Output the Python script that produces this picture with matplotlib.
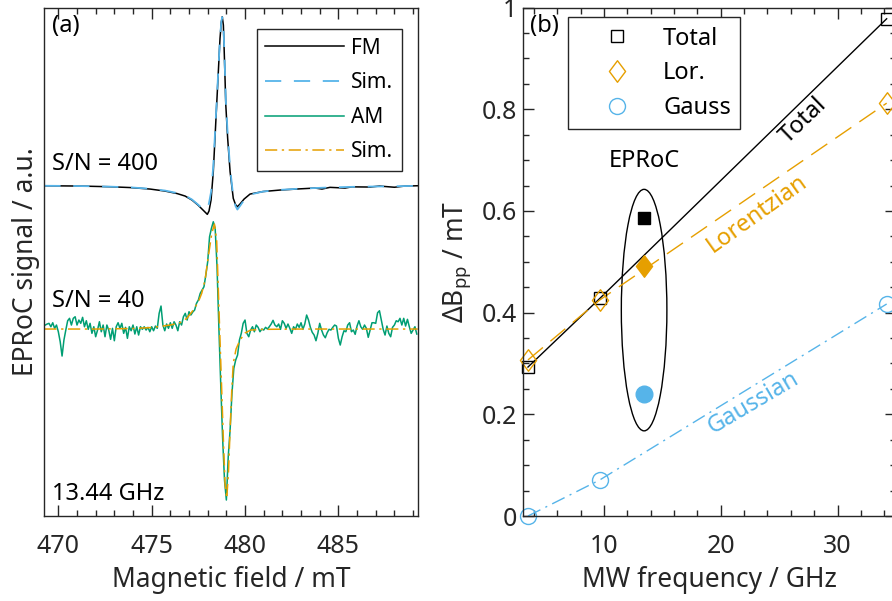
import matplotlib
matplotlib.use("Agg")
import matplotlib.pyplot as plt
import numpy as np
from matplotlib.patches import Ellipse
from matplotlib.path import Path
from matplotlib.ticker import FuncFormatter, MultipleLocator

plt.rcParams["font.family"] = ["Noto Sans", "DejaVu Sans"]
plt.rcParams["mathtext.default"] = "regular"

# --- (a) spectra, field in mT, signal in a.u. relative to each baseline ---
fm_field = [469.25, 471.16, 472.77, 473.84, 474.91, 475.71, 476.36, 476.79, 477.16,
            477.48, 477.75, 477.98, 478.07, 478.18, 478.30, 478.39, 478.48, 478.57,
            478.66, 478.73, 478.78, 478.84, 478.90, 478.97, 479.07, 479.20, 479.37,
            479.49, 479.59, 479.73, 479.95, 480.27, 480.96, 481.87, 482.94, 483.75,
            484.12, 484.55, 485.36, 485.73, 486.70, 487.20, 488.00, 488.57, 489.25]
fm_signal = [0.003, 0.0, -0.007, -0.015, -0.03, -0.05, -0.075, -0.10, -0.14,
             -0.19, -0.24, -0.283, -0.25, -0.14, 0.143, 0.477, 0.81, 1.143,
             1.477, 1.64, 1.693, 1.61, 1.26, 0.81, 0.477, 0.143, -0.123,
             -0.185, -0.207, -0.18, -0.13, -0.08, -0.055, -0.04, -0.028, -0.02,
             -0.03, -0.013, -0.02, -0.008, -0.01, 0.0, -0.012, 0.0, 0.003]
fm_sim_signal = [0.003, 0.0, -0.006, -0.013, -0.027, -0.045, -0.07, -0.095, -0.135,
                 -0.185, -0.23, -0.235, -0.17, -0.06, 0.2, 0.52, 0.84, 1.16,
                 1.48, 1.64, 1.69, 1.62, 1.3, 0.86, 0.52, 0.18, -0.11,
                 -0.2, -0.235, -0.2, -0.14, -0.085, -0.055, -0.038, -0.026, -0.02,
                 -0.017, -0.014, -0.01, -0.008, -0.005, -0.004, -0.002, 0.0, 0.002]

am_field = np.round(469.3 + 0.1 * np.arange(200), 2)
am_signal = [
    0.04, 0.05, 0.057, 0.023, 0.063, 0.007, 0.04, -0.027, -0.127, -0.27,
    -0.11, -0.01, 0.083, 0.107, 0.04, 0.107, 0.123, 0.04, 0.09, 0.057,
    0.117, 0.023, 0.083, -0.003, 0.057, -0.043, 0.023, -0.077, -0.01, 0.073,
    -0.027, 0.04, -0.077, 0.04, -0.01, -0.103, 0.007, -0.117, 0.023, 0.063,
    0.007, 0.057, -0.043, 0.017, -0.093, 0.023, -0.017, 0.04, -0.05, 0.023,
    -0.06, 0.023, -0.003, 0.023, -0.01, 0.017, -0.027, 0.023, -0.017, 0.03,
    0.007, 0.157, 0.23, 0.04, -0.017, 0.05, 0.007, 0.063, 0.007, 0.073,
    0.04, -0.017, 0.073, 0.04, 0.123, 0.157, 0.09, 0.173, 0.14, 0.17,
    0.19, 0.257, 0.29, 0.357, 0.39, 0.423, 0.54, 0.673, 0.923, 1.007,
    1.073, 1.007, 0.623, 0.007, -0.56, -1.093, -1.51, -1.71, -1.277, -1.01,
    -0.643, -0.393, -0.31, -0.26, -0.11, -0.043, 0.057, 0.09, -0.043, -0.077,
    -0.01, 0.023, -0.027, 0.04, 0.017, -0.027, 0.0, -0.01, 0.017, 0.0,
    0.023, 0.05, 0.087, 0.04, 0.023, 0.05, -0.003, 0.083, 0.057, 0.007,
    0.05, 0.007, -0.043, 0.023, -0.003, 0.05, 0.017, 0.063, -0.003, 0.05,
    0.14, 0.09, 0.017, -0.033, -0.06, -0.117, -0.043, 0.057, -0.01, -0.06,
    -0.087, -0.037, -0.003, -0.01, 0.017, 0.04, 0.03, -0.093, -0.16, -0.077,
    -0.017, -0.027, 0.04, 0.063, -0.027, -0.01, -0.053, 0.03, 0.083, 0.023,
    -0.003, 0.04, 0.007, -0.083, -0.01, 0.063, 0.063, 0.057, 0.163, 0.183,
    0.09, -0.003, -0.06, 0.03, -0.043, -0.077, 0.017, 0.04, 0.083, 0.073,
    0.107, 0.04, 0.107, 0.03, 0.097, 0.023, -0.043, -0.01, 0.023, -0.05,
]
am_sim_field = [469.25, 472.0, 474.0, 475.0, 476.0, 476.52, 476.88, 477.23, 477.50,
                477.68, 477.86, 478.03, 478.22, 478.36, 478.48, 478.57, 478.66,
                478.75, 478.84, 478.93, 479.02, 479.11, 479.20, 479.29, 479.37,
                479.52, 479.73, 480.0, 480.3, 481.0, 483.0, 489.25]
am_sim_signal = [0.0, 0.0, 0.005, 0.015, 0.04, 0.063, 0.107, 0.19, 0.273,
                 0.357, 0.49, 0.723, 0.957, 1.05, 0.89, 0.39, -0.11,
                 -0.61, -1.11, -1.543, -1.693, -1.443, -1.01, -0.61, -0.343,
                 -0.20, -0.11, -0.04, -0.01, -0.003, 0.0, 0.0]
fm_offset = 3.30
am_offset = 1.87

# --- (b) linewidths vs MW frequency ---
mw_freq = [3.5, 9.65, 34.2]
width_total = [0.293, 0.428, 0.978]
width_lor = [0.307, 0.425, 0.812]
width_gauss = [0.0, 0.071, 0.417]
eproc_freq = 13.44
eproc_total = 0.586
eproc_lor = 0.491
eproc_gauss = 0.24

BLACK = "#000000"
BLUE = "#56B4E9"
ORANGE = "#E69F00"
GREEN = "#009E73"
DARK = "#262626"

thin_diamond = Path([(0, 1), (0.75, 0), (0, -1), (-0.75, 0), (0, 1)],
                    [Path.MOVETO, Path.LINETO, Path.LINETO, Path.LINETO, Path.CLOSEPOLY])


def style_axes(ax):
    for sp in ax.spines.values():
        sp.set_color(DARK)
        sp.set_linewidth(1.0)
    ax.tick_params(which="both", direction="in", top=True, right=True,
                   color=DARK, labelcolor=DARK, labelsize=18, width=1.0)
    ax.tick_params(axis="x", which="both", pad=13)
    ax.tick_params(axis="y", which="both", pad=4)
    ax.tick_params(which="major", length=7.7)
    ax.tick_params(which="minor", length=4.3)


fig = plt.figure(figsize=(8.92, 6.01), dpi=100)
ax1 = fig.add_axes([0.0497, 0.1414, 0.4186, 0.846])
ax2 = fig.add_axes([0.586, 0.1414, 0.4185, 0.846])

# panel (a)
ax1.plot(fm_field, np.array(fm_signal) + fm_offset, color=BLACK, lw=1.1, label="FM")
ax1.plot(fm_field, np.array(fm_sim_signal) + fm_offset, color=BLUE, lw=1.3,
         dashes=(9, 7), label="Sim.")
ax1.plot(am_field, np.array(am_signal) + am_offset, color=GREEN, lw=1.1, label="AM")
ax1.plot(am_sim_field, np.array(am_sim_signal) + am_offset, color=ORANGE, lw=1.1,
         dashes=(8, 3, 1.5, 3), label="Sim.")
ax1.set_xlim(469.25, 489.25)
ax1.set_ylim(0, 5.085)
style_axes(ax1)
ax1.tick_params(which="both", left=False, right=False, labelleft=False)
ax1.xaxis.set_major_locator(MultipleLocator(5))
ax1.xaxis.set_minor_locator(MultipleLocator(1))
ax1.set_xlabel("Magnetic field / mT", fontsize=19, color=DARK, labelpad=5)
ax1.set_ylabel("EPRoC signal / a.u.", fontsize=19, color=DARK, labelpad=3)
leg1 = ax1.legend(loc="upper right", bbox_to_anchor=(0.957, 0.957), borderaxespad=0,
                  fontsize=15, handlelength=3.8, handletextpad=0.33,
                  labelspacing=0.65, fancybox=False, framealpha=1)
leg1.get_frame().set_edgecolor(DARK)
leg1.get_frame().set_linewidth(1.0)
ax1.text(0.021, 0.964, "(a)", transform=ax1.transAxes, fontsize=17, va="center", color=BLACK)
ax1.text(0.021, 0.680, "S/N = 400", transform=ax1.transAxes, fontsize=17, va="baseline")
ax1.text(0.021, 0.4116, "S/N = 40", transform=ax1.transAxes, fontsize=17, va="baseline")
ax1.text(0.021, 0.0315, "13.44 GHz", transform=ax1.transAxes, fontsize=17, va="baseline")

# panel (b)
ax2.plot(mw_freq, width_total, color=BLACK, lw=1.0)
ax2.plot(mw_freq, width_lor, color=ORANGE, lw=1.0, dashes=(14, 7))
ax2.plot(mw_freq, width_gauss, color=BLUE, lw=1.0, dashes=(10, 4, 1.5, 4))
ax2.plot(mw_freq, width_total, ls="none", marker="s", ms=8.5, mfc="none",
         mec=BLACK, mew=1.0, label="Total", clip_on=False)
ax2.plot(mw_freq, width_lor, ls="none", marker=thin_diamond, ms=15.5, mfc="none",
         mec=ORANGE, mew=1.0, label="Lor.", clip_on=False)
ax2.plot(mw_freq, width_gauss, ls="none", marker="o", ms=11.5, mfc="none",
         mec=BLUE, mew=1.0, label="Gauss", clip_on=False)
ax2.plot([eproc_freq], [eproc_total], ls="none", marker="s", ms=9, color=BLACK)
ax2.plot([eproc_freq], [eproc_lor], ls="none", marker=thin_diamond, ms=15.5, color=ORANGE)
ax2.plot([eproc_freq], [eproc_gauss], ls="none", marker="o", ms=12, color=BLUE)
ax2.add_patch(Ellipse((eproc_freq, 0.405), width=3.9, height=0.475, fill=False,
                      edgecolor=BLACK, lw=1.0))
ax2.set_xlim(3.05, 35.0)
ax2.set_ylim(0, 1)
style_axes(ax2)
ax2.xaxis.set_major_locator(MultipleLocator(10))
ax2.xaxis.set_minor_locator(MultipleLocator(2))
ax2.yaxis.set_major_locator(MultipleLocator(0.2))
ax2.yaxis.set_minor_locator(MultipleLocator(0.05))
ax2.yaxis.set_major_formatter(FuncFormatter(lambda v, p: f"{v:g}"))
ax2.set_xlabel("MW frequency / GHz", fontsize=19, color=DARK, labelpad=5)
ax2.set_ylabel("ΔB$_{pp}$ / mT", fontsize=19, color=DARK, labelpad=6)
leg2 = ax2.legend(loc="upper left", bbox_to_anchor=(0.122, 0.981), borderaxespad=0,
                  fontsize=17, handlelength=3.3, handletextpad=0.32, numpoints=1,
                  labelspacing=0.45, fancybox=False, framealpha=1)
leg2.get_frame().set_edgecolor(DARK)
leg2.get_frame().set_linewidth(1.0)
ax2.text(0.02, 0.964, "(b)", transform=ax2.transAxes, fontsize=17, va="center")
ax2.text(13.5, 0.698, "EPRoC", fontsize=17, ha="center", va="center")
ax2.text(27.1, 0.777, "Total", fontsize=17, ha="center", va="center",
         rotation=44, rotation_mode="anchor", color=BLACK)
ax2.text(23.1, 0.595, "Lorentzian", fontsize=17, ha="center", va="center",
         rotation=35.6, rotation_mode="anchor", color=ORANGE)
ax2.text(22.8, 0.2216, "Gaussian", fontsize=17, ha="center", va="center",
         rotation=30.6, rotation_mode="anchor", color=BLUE)

fig.savefig("out.png", dpi=100)
